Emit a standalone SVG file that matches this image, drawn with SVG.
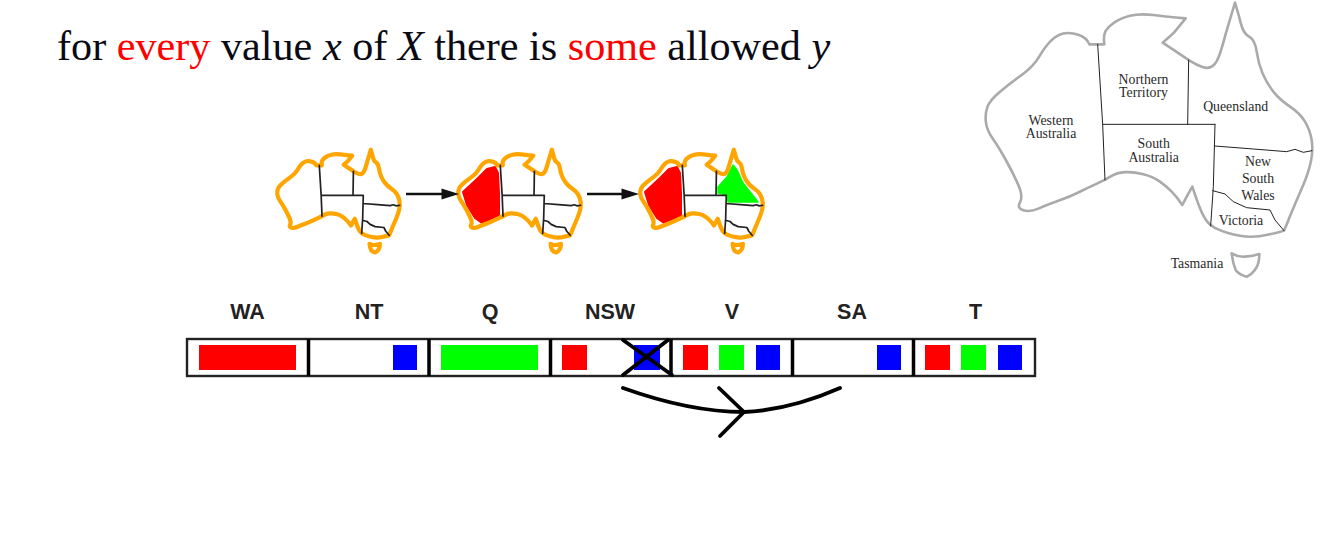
<svg xmlns="http://www.w3.org/2000/svg" xmlns:xlink="http://www.w3.org/1999/xlink" width="1332" height="547" viewBox="0 0 1332 547">
<style>
text{font-family:"Liberation Serif","Times New Roman",serif}
.title{font-size:42.2px;fill:#0a0a14}
.red{fill:#ff0000}
.it{font-style:italic}
.ml{font-size:13.8px;fill:#2a2a2a;text-anchor:middle}
.hd{font-family:"Liberation Sans",Arial,sans-serif;font-weight:bold;font-size:21.5px;fill:#222;text-anchor:middle}
.ns{vector-effect:non-scaling-stroke;fill:none;stroke-linejoin:round;stroke-linecap:round}
.o{stroke:var(--oc);stroke-width:var(--ow)}
.b{stroke:#222;stroke-width:var(--bw)}
.big{--oc:#aaaaaa;--ow:2.6px;--bw:1px}
.small{--oc:#ffa500;--ow:4.2px;--bw:1.7px}
.soft{filter:url(#soft)}
.cell{fill:#fff;stroke:#222;stroke-width:2.4px}
.div{stroke:#000;stroke-width:3.5px}
.r{fill:#ff0000}.g{fill:#00ff00}.u{fill:#0000ff}
.ln{fill:none;stroke:#000;stroke-width:3.8px;stroke-linecap:round;stroke-linejoin:round}
.ar{stroke:#111;stroke-width:2.6px}
.wa{fill:#ff0000;stroke:#ff0000;stroke-width:2px;stroke-linejoin:round}
.q{fill:#00ff00;stroke:#00ff00;stroke-width:1.5px;stroke-linejoin:round}
</style>
<defs>
<filter id="soft" x="-5%" y="-5%" width="110%" height="110%"><feGaussianBlur stdDeviation="0.45"/></filter>
<path id="outline" class="ns o" d="M383 133H358Q350 112 325 104Q300 96 280 100.500Q260 105 242.500 122.500Q225 140 207.500 170Q190 200 155 225Q120 250 90 275Q60 300 52.500 320Q45 340 47.500 365Q50 390 67.500 415Q85 440 107.500 480Q130 520 145 555Q160 590 150 607Q140 625 160 631Q180 637 205 626Q230 615 265 602.500Q300 590 325 577.500Q350 565 377.500 552.500Q405 540 422.500 529Q440 518 465 516.500Q490 515 520 522.500Q550 530 570 545Q590 560 605 575Q620 590 637 615L650 590L667 560Q680 600 690 625Q700 650 711 664Q722 678 746 689Q770 700 810 707.500Q850 715 896 703.500Q930 697 942 692Q952 670 961 646Q980 600 997.500 560Q1015 520 1022.500 485Q1030 450 1025 420Q1020 390 1005 365Q990 340 960 320Q930 300 910 275Q890 250 877.500 220Q865 190 860 155Q855 120 837.500 110Q820 100 812.500 70Q805 40 795 8L767.500 100Q760 130 750 160Q740 190 727.500 198.500Q715 207 697.500 201Q680 195 660 182.500L578 128L610 100L647 55L618 52.500Q590 50 550 45Q510 40 480 47.500Q450 55 430 70Q410 85 405 97.500Q400 110 403 133Z"/>
<path id="tas" class="ns o" d="M785 760Q805 772 825 770Q850 768 868 762Q868 790 858 805Q845 825 830 830Q810 825 798 812Q788 790 785 760Z"/>
<path id="borders" class="ns b" d="M383 133L398 373L405 540M398 373H735M656 180L653 373M735 373L730 560L722 678M733 438L850 447L950 455L975 448L1000 457L1026 452M728 572L765 582L790 605L830 623L900 630L915 660L942 692"/>
<g id="aus"><use xlink:href="#outline" href="#outline"/><use xlink:href="#tas" href="#tas"/><use xlink:href="#borders" href="#borders"/></g>
<polygon id="wa" class="wa" points="463,192 478,178 487,169 495,167 498,173 499,193 499,215 482,223 475,218 467,205"/>
</defs>
<rect width="1332" height="547" fill="#fff"/>
<g id="title">
<text class="title" x="57" y="60">for <tspan class="red">every</tspan> value <tspan class="it">x</tspan> of <tspan class="it">X</tspan> there is <tspan class="red">some</tspan> allowed <tspan class="it">y</tspan></text>
</g>
<g id="map-reference">
<g class="big"><use xlink:href="#aus" href="#aus" transform="translate(970 0) scale(.33333)"/></g>
<text class="ml" x="1051" y="124.500">Western</text><text class="ml" x="1051" y="138">Australia</text>
<text class="ml" x="1143.500" y="83.500">Northern</text><text class="ml" x="1143.500" y="97">Territory</text>
<text class="ml" x="1235.700" y="111">Queensland</text>
<text class="ml" x="1153.700" y="148">South</text><text class="ml" x="1153.700" y="161.500">Australia</text>
<text class="ml" x="1258" y="166">New</text><text class="ml" x="1258" y="183">South</text><text class="ml" x="1258" y="199.500">Wales</text>
<text class="ml" x="1241" y="224.700">Victoria</text>
<text class="ml" x="1197" y="268">Tasmania</text>
</g>
<g id="map-1" class="small soft"><use xlink:href="#aus" href="#aus" transform="translate(271.400 148.750) scale(.125)"/></g>
<g id="map-2" class="small soft">
<use xlink:href="#wa" href="#wa"/>
<use xlink:href="#aus" href="#aus" transform="translate(452.400 148.750) scale(.125)"/>
</g>
<g id="map-3" class="small soft">
<use xlink:href="#wa" href="#wa" transform="translate(182 0)"/>
<polygon class="q" points="718,187 727,177 733,165 737,170 743,183 758,202 743,202 728,202 727,195 718,193"/>
<use xlink:href="#aus" href="#aus" transform="translate(634.400 148.750) scale(.125)"/>
</g>
<g id="var-headers">
<text class="hd" x="247.500" y="318.500">WA</text>
<text class="hd" x="369" y="318.500">NT</text>
<text class="hd" x="490" y="318.500">Q</text>
<text class="hd" x="610" y="318.500">NSW</text>
<text class="hd" x="732" y="318.500">V</text>
<text class="hd" x="852" y="318.500">SA</text>
<text class="hd" x="975.500" y="318.500">T</text>
</g>
<g id="domain-bar">
<rect class="cell" x="187" y="339" width="848" height="37"/>
<g id="cell-WA"><rect class="r" x="199" y="345" width="97" height="25"/></g>
<g id="cell-NT"><rect class="u" x="393" y="345" width="24" height="25"/></g>
<g id="cell-Q"><rect class="g" x="441" y="345" width="97" height="25"/></g>
<g id="cell-NSW"><rect class="r" x="562" y="345" width="25" height="25"/><rect class="u" x="634" y="345" width="26" height="25"/></g>
<g id="cell-V"><rect class="r" x="683" y="345" width="25" height="25"/><rect class="g" x="719" y="345" width="25" height="25"/><rect class="u" x="756" y="345" width="24" height="25"/></g>
<g id="cell-SA"><rect class="u" x="877" y="345" width="24" height="25"/></g>
<g id="cell-T"><rect class="r" x="925" y="345" width="25" height="25"/><rect class="g" x="961" y="345" width="25" height="25"/><rect class="u" x="998" y="345" width="24" height="25"/></g>
<path class="div" d="M308.500 339V376M429 339V376M550.500 339V376M671 339V376M792.500 339V376M913.500 339V376"/>
</g>
<g id="connectors">
<path class="ar" d="M406 194H443"/><polygon fill="#111" points="441.500,188.500 459,194 441.500,199.500"/>
<path class="ar" d="M587 194H623"/><polygon fill="#111" points="621.500,188.500 639,194 621.500,199.500"/>
<path class="ln" d="M623 340L672 375M668 340L623 375"/>
<path class="ln" d="M623 388Q690 412 744 412Q790 410 840 388"/>
<path class="ln" d="M719 388L744 412L720 436"/>
</g>
</svg>
